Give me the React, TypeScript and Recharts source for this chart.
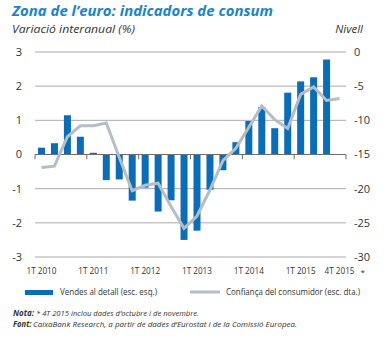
import {
  ComposedChart,
  Bar,
  Line,
  XAxis,
  YAxis,
  CartesianGrid,
  ReferenceLine,
} from "recharts";

const quarters = [
  "1T 2010", "2T 2010", "3T 2010", "4T 2010",
  "1T 2011", "2T 2011", "3T 2011", "4T 2011",
  "1T 2012", "2T 2012", "3T 2012", "4T 2012",
  "1T 2013", "2T 2013", "3T 2013", "4T 2013",
  "1T 2014", "2T 2014", "3T 2014", "4T 2014",
  "1T 2015", "2T 2015", "3T 2015", "4T 2015",
];

// Vendes al detall, variació interanual (%)
const retailSales = [
  0.2, 0.33, 1.15, 0.52, 0.05, -0.75, -0.73, -1.35, -0.97, -1.67, -1.34, -2.5,
  -2.23, -1.03, -0.46, 0.36, 0.98, 1.39, 0.77, 1.81, 2.14, 2.26, 2.78, null,
];

// Confiança del consumidor (nivell)
const consumerConfidence = [
  -16.9, -16.7, -12.4, -10.8, -10.8, -10.4, -15.4, -20.3, -19.5, -19.2, -22.6,
  -25.8, -24.0, -20.2, -15.9, -14.1, -11.0, -7.9, -9.9, -11.2, -6.2, -5.1, -7.1,
  -6.8,
];

const leftTicks = [-3, -2, -1, 0, 1, 2, 3];
const rightTicks = [-30, -25, -20, -15, -10, -5, 0];
const labelledQuarters = ["1T 2010", "1T 2011", "1T 2012", "1T 2013", "1T 2014", "1T 2015", "4T 2015"];
const yearStarts = [0, 4, 8, 12, 16, 20, 24];

const data = quarters.map((q, i) => ({
  q,
  x: i + 0.5,
  vendes: retailSales[i],
  confianca: consumerConfidence[i],
}));

const BLUE = "#0a6db6";
const GREY_LINE = "#b3bec6";
const TEXT = "#333333";
const FONT = "'Open Sans', sans-serif";

const XTick = (props: any) => {
  const { x, y, payload } = props;
  const label = quarters[Math.round(payload.value - 0.5)];
  return (
    <g>
      <text x={x - 15} y={y + 15} fontSize={9.2} fill={TEXT} fontFamily={FONT}
        textLength={30} lengthAdjust="spacingAndGlyphs">
        {label}
      </text>
      {label === "4T 2015" && (
        <text x={x + 21} y={y + 15.5} fontSize={8} fill={TEXT} fontFamily={FONT}>
          *
        </text>
      )}
    </g>
  );
};

export default function App() {
  const tickX = data
    .filter((d) => labelledQuarters.includes(d.q))
    .map((d) => d.x);

  return (
    <div style={{ position: "absolute", left: 0, top: 0, width: 387, height: 338, background: "#fff" }}>
      <ComposedChart
        width={387}
        height={338}
        data={data}
        margin={{ top: 52, right: 0, bottom: 61, left: 0 }}
      >
        <CartesianGrid vertical={false} stroke="#959595" strokeWidth={0.8} yAxisId="left" />
        <XAxis
          dataKey="x"
          type="number"
          domain={[0, 24]}
          ticks={tickX}
          tick={<XTick />}
          axisLine={false}
          tickLine={false}
          tickSize={0}
          height={20}
        />
        <YAxis
          yAxisId="left"
          domain={[-3, 3]}
          ticks={leftTicks}
          width={35}
          axisLine={false}
          tickLine={false}
          tickSize={0}
          tickMargin={13}
          tick={{ fontSize: 11, fill: TEXT, fontFamily: FONT }}
        />
        <YAxis
          yAxisId="right"
          orientation="right"
          domain={[-30, 0]}
          ticks={rightTicks}
          width={41}
          axisLine={false}
          tickLine={false}
          tickSize={0}
          tickMargin={8}
          tick={{ fontSize: 11, fill: TEXT, fontFamily: FONT, textAnchor: "start" }}
        />
        <ReferenceLine yAxisId="left" y={0} stroke="#6d6d6d" strokeWidth={1} />
        {yearStarts.map((x) => (
          <ReferenceLine
            key={x}
            yAxisId="left"
            segment={[{ x, y: 0 }, { x, y: -0.14 }]}
            stroke="#6d6d6d"
            strokeWidth={1}
            ifOverflow="visible"
          />
        ))}
        <Bar yAxisId="left" dataKey="vendes" fill={BLUE} barSize={7} isAnimationActive={false} />
        <Line
          yAxisId="right"
          dataKey="confianca"
          stroke={GREY_LINE}
          strokeWidth={3}
          dot={false}
          type="linear"
          isAnimationActive={false}
        />
      </ComposedChart>

      <svg
        width={387}
        height={338}
        style={{ position: "absolute", left: 0, top: 0, pointerEvents: "none" }}
        fontFamily={FONT}
      >
        <text x={12} y={15.5} fontSize={15} fontWeight="bold" fontStyle="italic" fill="#1d83c6"
          textLength={261} lengthAdjust="spacingAndGlyphs">
          Zona de l’euro: indicadors de consum
        </text>
        <text x={12} y={32.5} fontSize={11.5} fontStyle="italic" fill={TEXT}
          textLength={123} lengthAdjust="spacingAndGlyphs">
          Variació interanual (%)
        </text>
        <text x={363} y={32.5} fontSize={11.5} fontStyle="italic" fill={TEXT} textAnchor="end">
          Nivell
        </text>

        <rect x={25} y={290} width={28} height={5} fill={BLUE} />
        <text x={60} y={295} fontSize={9} fill={TEXT} textLength={97} lengthAdjust="spacingAndGlyphs">
          Vendes al detall (esc. esq.)
        </text>
        <line x1={190} y1={292} x2={220} y2={292} stroke={GREY_LINE} strokeWidth={3} />
        <text x={226} y={295} fontSize={9} fill={TEXT} textLength={134} lengthAdjust="spacingAndGlyphs">
          Confiança del consumidor (esc. dta.)
        </text>

        <text x={13} y={316.3} fontSize={8} fontStyle="italic" fontWeight="bold" fill={TEXT}
          textLength={21} lengthAdjust="spacingAndGlyphs">
          Nota:
        </text>
        <text x={36} y={316.3} fontSize={8} fontStyle="italic" fill={TEXT}
          textLength={163} lengthAdjust="spacingAndGlyphs">
          * 4T 2015 inclou dades d’octubre i de novembre.
        </text>
        <text x={13} y={327.2} fontSize={8} fontStyle="italic" fontWeight="bold" fill={TEXT}
          textLength={18.5} lengthAdjust="spacingAndGlyphs">
          Font:
        </text>
        <text x={33} y={327.2} fontSize={8} fontStyle="italic" fill={TEXT}
          textLength={264} lengthAdjust="spacingAndGlyphs">
          CaixaBank Research, a partir de dades d’Eurostat i de la Comissió Europea.
        </text>
      </svg>
    </div>
  );
}
